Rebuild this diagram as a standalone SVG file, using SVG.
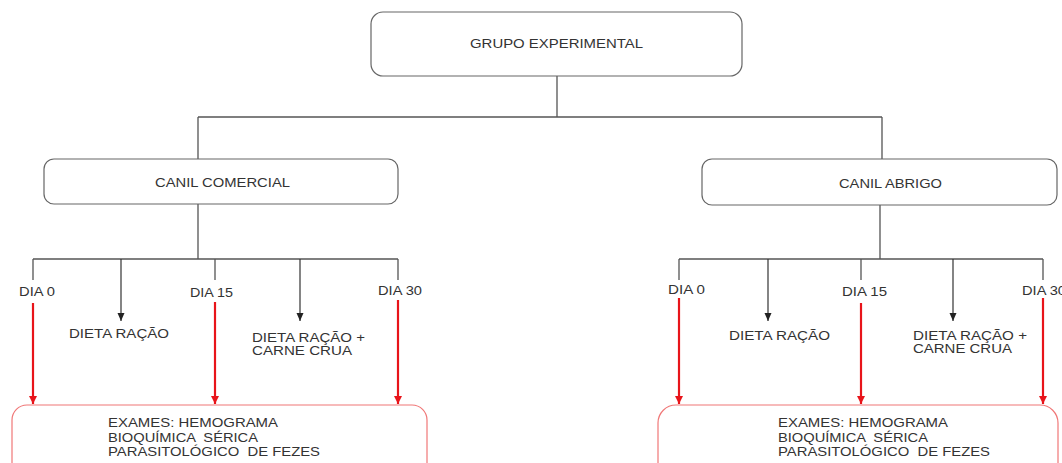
<svg xmlns="http://www.w3.org/2000/svg" width="1062" height="463" viewBox="0 0 1062 463">
<style>
text{font-family:"Liberation Sans",Arial,sans-serif;font-size:13px;fill:#333;white-space:pre}
.box{fill:#fff;stroke:#666;stroke-width:1.2}
.exam{fill:#fff;stroke:#f07777;stroke-width:1.2}
.ln{fill:none;stroke:#555;stroke-width:1.3}
.blk{fill:none;stroke:#333;stroke-width:1.2}
.red{fill:none;stroke:#e8141a;stroke-width:2.2}
</style>
<defs>
<marker id="bk" viewBox="0 0 8 8" refX="8" refY="4" markerWidth="8" markerHeight="8" orient="auto" markerUnits="userSpaceOnUse">
<path d="M0,0.5 L8,4 L0,7.5 Z" fill="#222"/>
</marker>
<marker id="rd" viewBox="0 0 8 8" refX="8" refY="4" markerWidth="8" markerHeight="9" orient="auto" markerUnits="userSpaceOnUse">
<path d="M0,0 L8,4 L0,8 Z" fill="#e8141a"/>
</marker>
</defs>
<g id="connectors">
<path class="ln" d="M557,76 V117 M198,117 H882 M198,117 V159 M882,117 V159"/>
<path class="ln" d="M198,204 V259 M33,259 H398 M33,259 V280 M215,259 V280 M398,259 V280"/>
<path class="ln" d="M880,205 V259 M679,259 H1043 M679,259 V280 M861,259 V280 M1043,259 V280"/>
<line class="blk" x1="121" y1="259" x2="121" y2="321" marker-end="url(#bk)"/>
<line class="blk" x1="300" y1="259" x2="300" y2="321" marker-end="url(#bk)"/>
<line class="blk" x1="768" y1="259" x2="768" y2="321" marker-end="url(#bk)"/>
<line class="blk" x1="953" y1="259" x2="953" y2="321" marker-end="url(#bk)"/>
<line class="red" x1="33" y1="303" x2="33" y2="404" marker-end="url(#rd)"/>
<line class="red" x1="215" y1="302" x2="215" y2="404" marker-end="url(#rd)"/>
<line class="red" x1="398" y1="300" x2="398" y2="404" marker-end="url(#rd)"/>
<line class="red" x1="679" y1="298" x2="679" y2="404" marker-end="url(#rd)"/>
<line class="red" x1="861" y1="303" x2="861" y2="404" marker-end="url(#rd)"/>
<line class="red" x1="1043" y1="298" x2="1043" y2="404" marker-end="url(#rd)"/>
</g>
<g id="grupo-experimental">
<rect class="box" x="371" y="12" width="371" height="64" rx="12"/>
<text x="470" y="48" textLength="173" lengthAdjust="spacingAndGlyphs">GRUPO EXPERIMENTAL</text>
</g>
<g id="canil-comercial">
<rect class="box" x="44" y="159" width="354" height="45" rx="10"/>
<text x="155" y="186.5" textLength="135" lengthAdjust="spacingAndGlyphs">CANIL COMERCIAL</text>
</g>
<g id="canil-abrigo">
<rect class="box" x="702" y="159" width="355" height="46" rx="10"/>
<text x="839" y="187.5" textLength="103" lengthAdjust="spacingAndGlyphs">CANIL ABRIGO</text>
</g>
<g id="cc-dia0"><text x="19" y="296" textLength="36" lengthAdjust="spacingAndGlyphs">DIA 0</text></g>
<g id="cc-dieta"><text x="69" y="337.5" textLength="100" lengthAdjust="spacingAndGlyphs">DIETA RAÇÃO</text></g>
<g id="cc-dia15"><text x="190" y="296.5" textLength="43" lengthAdjust="spacingAndGlyphs">DIA 15</text></g>
<g id="cc-dieta-carne">
<text x="252" y="341.5" textLength="113" lengthAdjust="spacingAndGlyphs">DIETA RAÇÃO +</text>
<text x="252" y="354.5" textLength="100" lengthAdjust="spacingAndGlyphs">CARNE CRUA</text>
</g>
<g id="cc-dia30"><text x="378" y="294.5" textLength="44" lengthAdjust="spacingAndGlyphs">DIA 30</text></g>
<g id="cc-exames">
<rect class="exam" x="12" y="405" width="415" height="80" rx="15"/>
<text x="108" y="426.5" textLength="170" lengthAdjust="spacingAndGlyphs">EXAMES: HEMOGRAMA</text>
<text x="108" y="441.5" textLength="150" lengthAdjust="spacingAndGlyphs">BIOQUÍMICA  SÉRICA</text>
<text x="108" y="455.5" textLength="212" lengthAdjust="spacingAndGlyphs">PARASITOLÓGICO  DE FEZES</text>
</g>
<g id="ca-dia0"><text x="668" y="293.5" textLength="37" lengthAdjust="spacingAndGlyphs">DIA 0</text></g>
<g id="ca-dieta"><text x="729" y="340" textLength="101" lengthAdjust="spacingAndGlyphs">DIETA RAÇÃO</text></g>
<g id="ca-dia15"><text x="842" y="295.5" textLength="45" lengthAdjust="spacingAndGlyphs">DIA 15</text></g>
<g id="ca-dieta-carne">
<text x="913" y="339.5" textLength="114" lengthAdjust="spacingAndGlyphs">DIETA RAÇÃO +</text>
<text x="913" y="352.5" textLength="99" lengthAdjust="spacingAndGlyphs">CARNE CRUA</text>
</g>
<g id="ca-dia30"><text x="1022" y="295" textLength="44" lengthAdjust="spacingAndGlyphs">DIA 30</text></g>
<g id="ca-exames">
<rect class="exam" x="658" y="405" width="400" height="80" rx="18"/>
<text x="778" y="426.5" textLength="170" lengthAdjust="spacingAndGlyphs">EXAMES: HEMOGRAMA</text>
<text x="778" y="441.5" textLength="150" lengthAdjust="spacingAndGlyphs">BIOQUÍMICA  SÉRICA</text>
<text x="778" y="455.5" textLength="212" lengthAdjust="spacingAndGlyphs">PARASITOLÓGICO  DE FEZES</text>
</g>
</svg>
